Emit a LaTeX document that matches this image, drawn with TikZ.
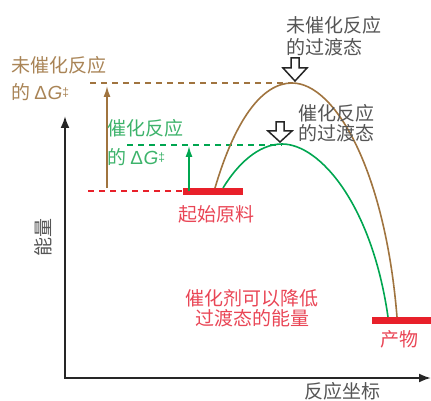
\documentclass[tikz,border=0pt]{standalone}
\usepackage{fontspec}
\setmainfont{Liberation Sans}
\newfontfamily\cjk{Noto Sans CJK SC}
\newfontfamily\latinsans{Liberation Sans}
\usetikzlibrary{arrows.meta}
\definecolor{brownc}{HTML}{A0743F}
\definecolor{browntxt}{HTML}{A98456}
\definecolor{greenc}{HTML}{00A650}
\definecolor{greentxt}{HTML}{3DB36B}
\definecolor{redc}{HTML}{E8202A}
\definecolor{redtxt}{HTML}{E94656}
\definecolor{graytxt}{HTML}{555555}
\tikzset{
  lbl/.style={inner sep=0pt, font=\cjk\fontsize{19}{21}\selectfont},
  axisline/.style={line width=2pt, draw=black!85, -{Latex[length=12pt,width=9pt]}},
  dashedline/.style={line width=1.3pt, dash pattern=on 6pt off 5pt},
  curve/.style={line width=1.6pt},
  bar/.style={line width=7pt, draw=redc},
  hollow/.style={line width=1.5pt, draw=black!85, fill=white, line join=miter},
  darrow/.style={line width=1.5pt, -{Latex[length=11pt,width=7pt]}}
}
\newcommand{\dG}{{\latinsans Δ\kern0.5pt\textit{G}\raisebox{3pt}{\fontsize{12}{12}\selectfont ‡}}}
\begin{document}
\begin{tikzpicture}[x=1pt,y=-1pt]
\useasboundingbox (0,0) rectangle (431,401);
% axes
\coordinate (O) at (65,378);
\coordinate (Ytop) at (65,116);
\coordinate (Xend) at (431,378);
\draw[axisline] (O) -- (Ytop);
\draw[axisline] ([xshift=-1pt]O) -- (Xend);
\node[lbl, text=graytxt, rotate=90] (energy) at (43,237) {能量};
\node[lbl, text=graytxt] (coord) at (342,391) {反应坐标};
% dashed levels
\coordinate (bdl) at (90,83);
\coordinate (peakB) at (292,83);
\coordinate (gdl) at (127,145);
\coordinate (peakG) at (282,144);
\coordinate (rdl) at (88,191);
\coordinate (sL) at (183,191);
\coordinate (sR) at (243,191);
\coordinate (pL) at (372,320);
\coordinate (pR) at (431,320);
\draw[dashedline, brownc] (bdl) -- (peakB);
\draw[dashedline, greenc] (gdl) -- (282,145);
\draw[dashedline, redc] (rdl) -- (sL);
% bars
\draw[bar] (sL) -- (sR);
\draw[bar] (pL) -- (pR);
% curves
\draw[curve, brownc] (215,188) .. controls (235,120) and (262,83) .. (peakB)
  .. controls (335,83) and (385,170) .. (397,317);
\draw[curve, greenc] (223,188) .. controls (237,165) and (258,144) .. (peakG)
  .. controls (320,144) and (372,205) .. (388,317);
% vertical arrows
\coordinate (bA0) at (107,188);
\coordinate (bA1) at (107,86);
\coordinate (gA0) at (189,191);
\coordinate (gA1) at (189,146);
\draw[darrow, brownc] (bA0) -- (bA1);
\draw[darrow, greenc] (gA0) -- (gA1);
% hollow arrows
\draw[hollow] (291,58) -- (299,58) -- (299,68) -- (307,68) -- (295,81) -- (283,68) -- (291,68) -- cycle;
\draw[hollow] (276,122) -- (284,122) -- (284,131) -- (292,131) -- (280,142) -- (268,131) -- (276,131) -- cycle;
% texts
\node[lbl, text=browntxt, anchor=west] (bt1) at (11,65) {未催化反应};
\node[lbl, text=browntxt, anchor=west] (bt2) at (11,92) {的 \dG};
\node[lbl, text=greentxt, anchor=west] (gt1) at (107,128) {催化反应};
\node[lbl, text=greentxt, anchor=west] (gt2) at (107,157) {的 \dG};
\node[lbl, text=graytxt, anchor=west] (ut1) at (286,25) {未催化反应};
\node[lbl, text=graytxt, anchor=west] (ut2) at (286,47) {的过渡态};
\node[lbl, text=graytxt, anchor=west] (ct1) at (298,113) {催化反应};
\node[lbl, text=graytxt, anchor=west] (ct2) at (298,133) {的过渡态};
\node[lbl, text=redtxt] (start) at (216,214) {起始原料};
\node[lbl, text=redtxt] (prod) at (399,339) {产物};
\node[lbl, text=redtxt] (note1) at (252,298) {催化剂可以降低};
\node[lbl, text=redtxt] (note2) at (252,318) {过渡态的能量};
\end{tikzpicture}
\end{document}
